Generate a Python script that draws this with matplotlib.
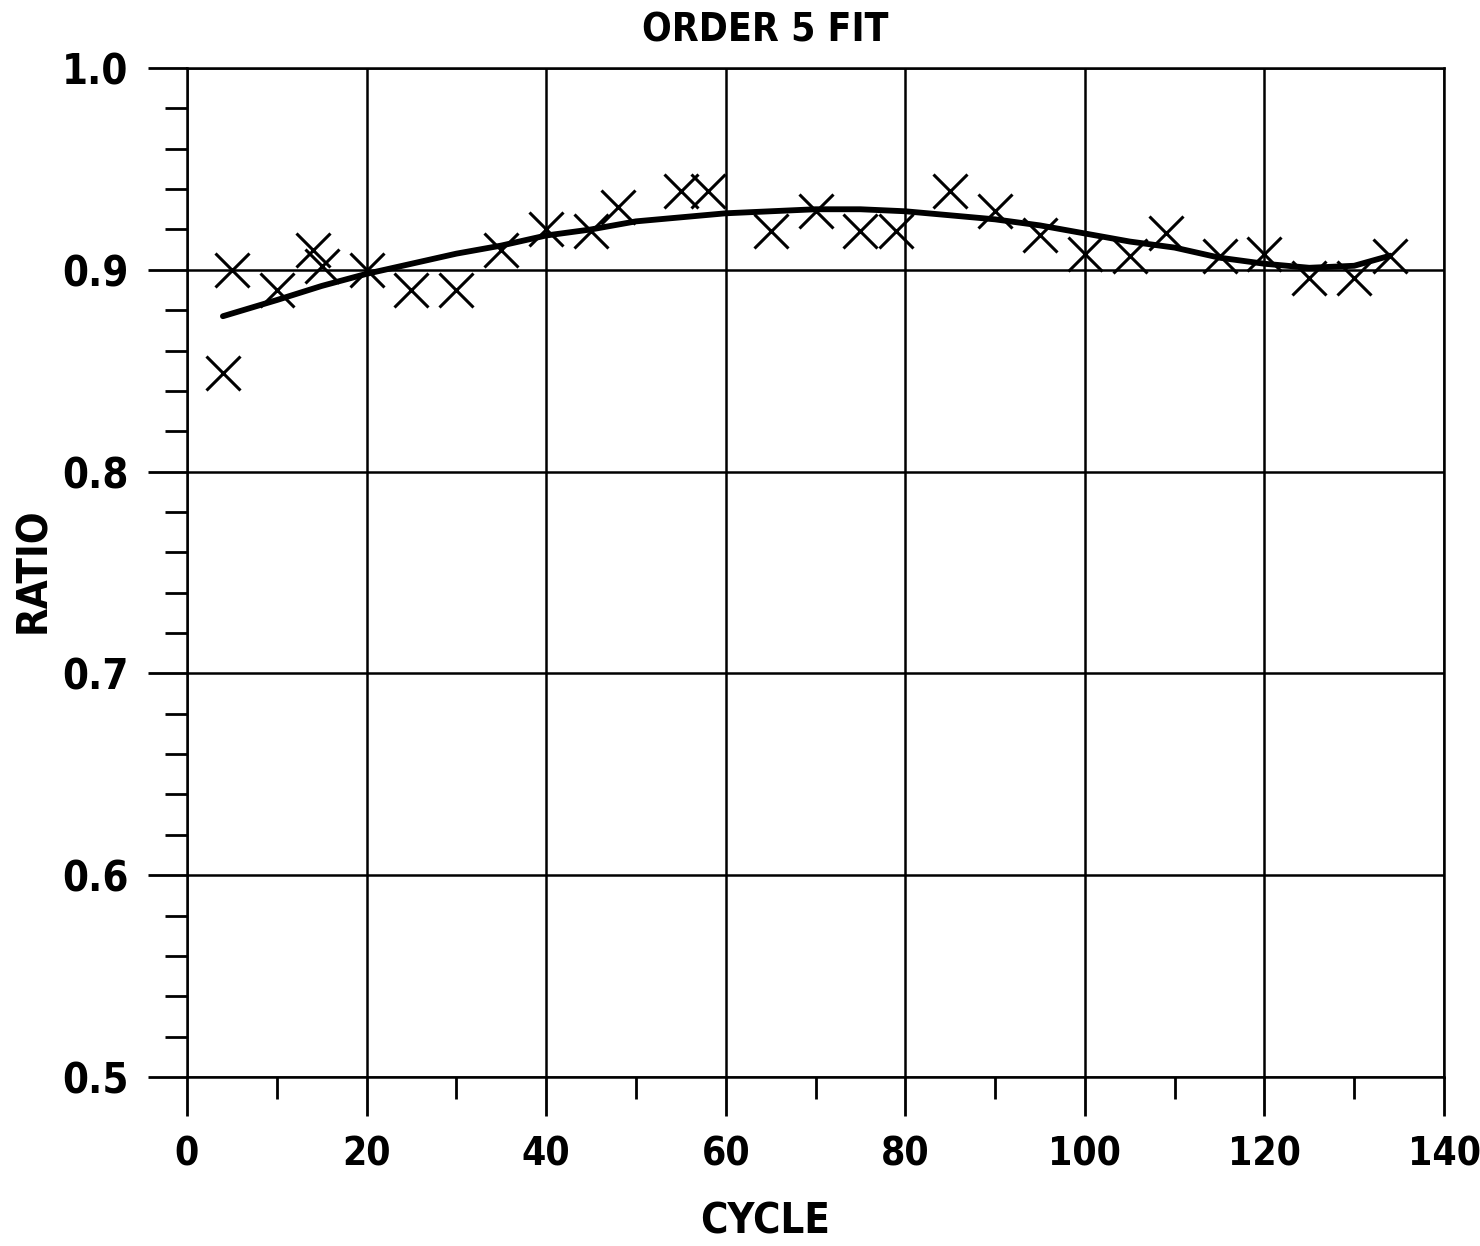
import matplotlib.pyplot as plt
from matplotlib import font_manager
from matplotlib.ticker import MultipleLocator

# data
cycle = [4, 5, 10, 14, 15, 20, 25, 30, 35, 40, 45, 48, 55, 58, 65, 70, 75, 79,
         85, 90, 95, 100, 105, 109, 115, 120, 125, 130, 134]
ratio = [0.849, 0.900, 0.890, 0.910, 0.902, 0.900, 0.890, 0.890, 0.910, 0.920,
         0.919, 0.931, 0.939, 0.939, 0.919, 0.929, 0.919, 0.919,
         0.939, 0.929, 0.917, 0.908, 0.907, 0.918, 0.907, 0.908, 0.896, 0.896, 0.907]

# order 5 fit curve, read at intervals
fit_x = [4, 10, 15, 20, 25, 30, 35, 40, 45, 50, 55, 60, 65, 70, 75, 80,
         85, 90, 95, 100, 105, 110, 115, 120, 125, 130, 134]
fit_y = [0.877, 0.885, 0.892, 0.898, 0.903, 0.908, 0.912, 0.917, 0.920, 0.924,
         0.926, 0.928, 0.929, 0.930, 0.930, 0.929, 0.927, 0.925, 0.922, 0.918,
         0.914, 0.911, 0.906, 0.903, 0.901, 0.902, 0.907]

# look for a condensed bold face, the scan uses narrow lettering
font = None
for want in ['DejaVu Sans', 'Roboto', 'Noto Sans', 'Liberation Sans', 'Open Sans', 'Lato', 'Inter']:
    for f in font_manager.fontManager.ttflist:
        name = (f.name + ' ' + f.fname).lower()
        narrow = ('condensed' in name or 'narrow' in name or f.stretch in ('condensed', 'semi-condensed'))
        if f.name.startswith(want) and narrow and 'italic' not in name and 'oblique' not in name \
                and (f.weight in ('bold', 700, 600) or 'bold' in name) and 'extra' not in name and 'semi' not in f.fname.lower():
            font = f.fname
            break
    if font:
        break

if font:
    fp = font_manager.FontProperties(fname=font)
else:
    fp = font_manager.FontProperties(family='DejaVu Sans', weight='bold')


def fpsize(s):
    p = fp.copy()
    p.set_size(s)
    return p


fig = plt.figure(figsize=(14.8, 12.46), dpi=100)
ax = fig.add_axes([187 / 1480, 1 - 1077 / 1246, (1444 - 187) / 1480, (1077 - 68) / 1246])

ax.plot(fit_x, fit_y, color='black', lw=4.2, solid_capstyle='round', zorder=3)
ax.plot(cycle, ratio, 'x', color='black', ms=24, mew=2.2, zorder=4)

ax.set_xlim(0, 140)
ax.set_ylim(0.5, 1.0)
ax.xaxis.set_major_locator(MultipleLocator(20))
ax.xaxis.set_minor_locator(MultipleLocator(10))
ax.yaxis.set_major_locator(MultipleLocator(0.1))
ax.yaxis.set_minor_locator(MultipleLocator(0.02))
ax.yaxis.set_major_formatter(plt.FuncFormatter(lambda v, p: f'{v:.1f}'))

ax.grid(which='major', color='black', lw=1.8)
for s in ax.spines.values():
    s.set_linewidth(1.8)

ax.tick_params(which='major', direction='out', length=28, width=2, pad=14)
ax.tick_params(which='minor', direction='out', length=16, width=2)
for lab in ax.get_xticklabels():
    lab.set_fontproperties(fpsize(28))
for lab in ax.get_yticklabels():
    lab.set_fontproperties(fpsize(30))

fig.text(765 / 1480, 1 - 31 / 1246, 'ORDER 5 FIT', ha='center', va='center', fontproperties=fpsize(28))
fig.text(765 / 1480, 1 - 1222 / 1246, 'CYCLE', ha='center', va='center', fontproperties=fpsize(30))
fig.text(33 / 1480, 1 - 570 / 1246, 'RATIO', ha='center', va='center', rotation=90, fontproperties=fpsize(30))

fig.savefig('out.png', dpi=100)
